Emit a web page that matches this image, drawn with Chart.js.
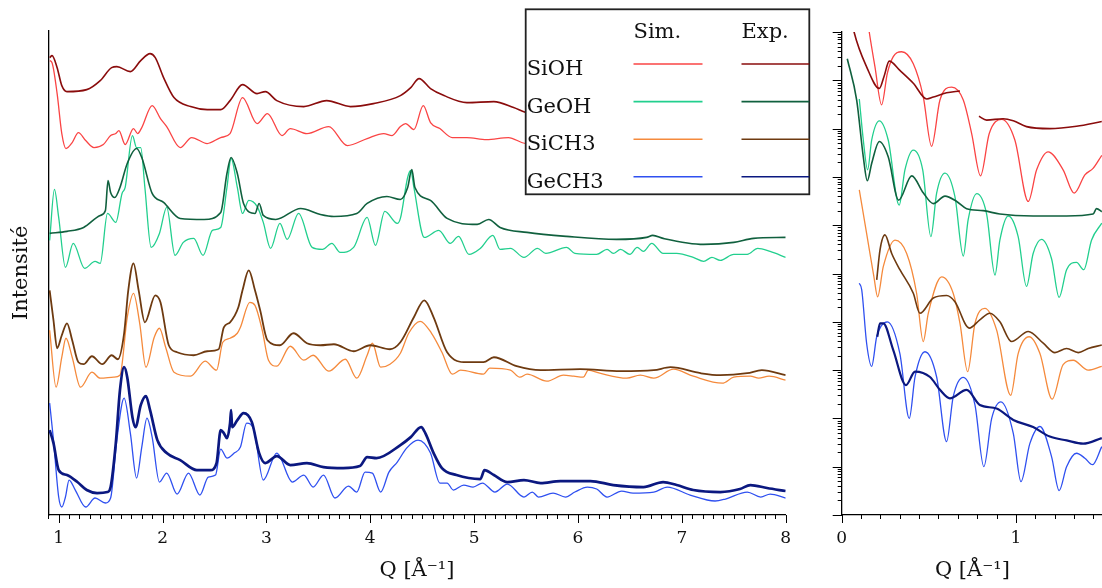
<!DOCTYPE html>
<html>
<head>
<meta charset="utf-8">
<script src="https://cdn.jsdelivr.net/npm/chart.js@4/dist/chart.umd.min.js"></script>
<style>
  html, body { margin: 0; padding: 0; background: #fff; overflow: hidden; }
  #wrap { position: relative; width: 1102px; height: 588px; }
  #left { position: absolute; left: 0; top: 0; }
  #right { position: absolute; left: 815px; top: 0; }
</style>
</head>
<body>
<div id="wrap">
  <canvas id="left" width="815" height="588"></canvas>
  <canvas id="right" width="288" height="588"></canvas>
</div>
<script>
// samples + legend
const samples = ["SiOH", "GeOH", "SiCH3", "GeCH3"];
const colHeads = ["Sim.", "Exp."];
const simColors = ["#fa4444", "#22cf8e", "#f58a3c", "#2f50f0"];
const expColors = ["#8a0c0c", "#10603e", "#6e3a10", "#0b1880"];

// tick labels
const leftTicks = [1, 2, 3, 4, 5, 6, 7, 8];
const rightTicks = [0, 1];

// ---- wide Q range, [Q, intensity (a.u., offset)] ----
const siohExp = [[0.913,458],[0.936,460],[0.985,448],[1.03,430],[1.08,424],[1.27,426],[1.40,435],[1.51,448],[1.56,449],[1.69,444],[1.79,455],[1.88,462],[1.93,458],[2.01,438],[2.11,418],[2.27,409],[2.43,406],[2.56,406],[2.65,415],[2.77,431],[2.91,422],[2.99,424],[3.10,415],[3.36,409],[3.58,415],[3.81,409],[4.03,412],[4.29,420],[4.39,428],[4.47,437],[4.58,427],[4.71,420],[4.93,413],[5.19,414],[5.38,408],[5.50,403],[5.60,401]];
const siohSim = [[0.914,455],[0.936,453],[0.985,422],[1.03,382],[1.07,367],[1.13,373],[1.19,383],[1.26,375],[1.34,368],[1.43,371],[1.50,380],[1.55,382],[1.58,385],[1.64,371],[1.72,387],[1.76,382],[1.80,388],[1.90,410],[1.98,397],[2.04,389],[2.17,368],[2.28,378],[2.43,372],[2.56,378],[2.65,382],[2.77,418],[2.91,392],[3.01,402],[3.15,380],[3.23,387],[3.39,382],[3.60,389],[3.78,370],[3.97,377],[4.13,382],[4.21,380],[4.29,389],[4.34,392],[4.42,386],[4.51,410],[4.58,393],[4.67,387],[4.79,378],[4.93,378],[5.12,376],[5.33,378],[5.50,372],[5.60,372]];
const geohExp = [[0.913,282],[1.08,284],[1.24,288],[1.40,300],[1.45,305],[1.475,335],[1.50,323],[1.54,318],[1.59,328],[1.66,352],[1.75,367],[1.80,358],[1.90,322],[2.01,313],[2.17,297],[2.40,296],[2.56,303],[2.62,342],[2.66,358],[2.72,342],[2.78,312],[2.89,302],[2.93,312],[2.97,300],[3.09,296],[3.33,307],[3.52,301],[3.65,299],[3.87,302],[3.97,312],[4.16,319],[4.29,316],[4.36,328],[4.40,346],[4.43,328],[4.58,315],[4.74,297],[5.03,291],[5.14,296],[5.25,288],[5.51,283],[5.89,279],[6.37,276],[6.66,278],[6.72,280],[6.82,277],[7.21,271],[7.50,273],[7.69,277],[8.0,278]];
const geohSim = [[0.913,275],[0.959,326],[1.0,298],[1.065,248],[1.14,272],[1.25,247],[1.35,254],[1.40,252],[1.47,302],[1.55,293],[1.61,322],[1.64,328],[1.71,380],[1.75,368],[1.79,368],[1.83,328],[1.89,268],[1.97,282],[2.04,308],[2.12,260],[2.20,273],[2.30,277],[2.39,260],[2.48,285],[2.56,288],[2.62,328],[2.66,357],[2.72,328],[2.77,302],[2.83,315],[2.91,309],[2.97,293],[3.04,267],[3.13,292],[3.20,276],[3.31,302],[3.44,268],[3.54,266],[3.63,272],[3.71,263],[3.84,268],[3.97,298],[4.05,270],[4.14,304],[4.26,292],[4.29,297],[4.36,338],[4.39,345],[4.42,328],[4.52,278],[4.66,285],[4.77,272],[4.85,279],[4.95,261],[5.06,267],[5.18,280],[5.25,266],[5.35,267],[5.48,258],[5.61,267],[5.69,262],[5.89,268],[5.97,262],[6.18,261],[6.28,266],[6.34,262],[6.41,266],[6.50,261],[6.57,268],[6.63,264],[6.71,272],[6.82,262],[6.95,262],[7.11,258],[7.21,254],[7.29,258],[7.37,255],[7.50,261],[7.63,261],[7.73,267],[7.85,264],[8.0,258]];
const sich3Exp = [[0.913,225],[0.95,195],[0.985,167],[1.03,180],[1.08,192],[1.13,175],[1.19,153],[1.24,151],[1.32,159],[1.42,151],[1.51,160],[1.57,156],[1.63,182],[1.67,225],[1.72,252],[1.77,225],[1.83,193],[1.93,220],[1.98,213],[2.06,170],[2.14,163],[2.30,160],[2.43,164],[2.54,166],[2.59,188],[2.65,193],[2.73,208],[2.77,225],[2.83,245],[2.89,225],[2.94,205],[3.01,175],[3.13,170],[3.26,182],[3.39,172],[3.52,170],[3.65,171],[3.84,164],[4.00,170],[4.19,166],[4.29,173],[4.42,198],[4.52,215],[4.61,198],[4.74,163],[4.93,153],[5.09,153],[5.19,158],[5.41,149],[5.64,145],[6.02,146],[6.41,144],[6.73,145],[6.89,148],[7.18,142],[7.37,140],[7.63,142],[7.77,145],[8.0,140]];
const sich3Sim = [[0.913,185],[0.975,128],[1.03,158],[1.07,177],[1.13,158],[1.21,128],[1.32,143],[1.40,137],[1.53,138],[1.59,140],[1.66,198],[1.72,222],[1.78,192],[1.84,148],[1.92,178],[1.97,187],[2.03,168],[2.11,143],[2.27,139],[2.41,154],[2.52,145],[2.58,173],[2.65,177],[2.72,182],[2.75,188],[2.84,213],[2.89,210],[2.96,185],[3.02,155],[3.10,149],[3.23,169],[3.36,155],[3.45,160],[3.60,144],[3.76,156],[3.87,137],[3.97,160],[4.02,172],[4.10,148],[4.19,151],[4.29,162],[4.37,182],[4.48,194],[4.59,182],[4.69,163],[4.79,141],[4.87,145],[5.09,141],[5.15,147],[5.35,145],[5.44,138],[5.51,141],[5.70,134],[5.86,140],[5.96,139],[6.05,138],[6.10,145],[6.21,142],[6.47,137],[6.60,140],[6.73,137],[6.92,146],[7.11,139],[7.39,132],[7.50,138],[7.66,139],[7.74,137],[7.84,139],[8.0,135]];
const gech3Exp = [[0.913,85],[0.95,72],[1.0,45],[1.08,40],[1.18,33],[1.27,25],[1.37,22],[1.47,23],[1.50,28],[1.55,72],[1.59,125],[1.63,148],[1.66,138],[1.71,98],[1.74,88],[1.79,110],[1.84,119],[1.88,105],[1.95,75],[2.04,62],[2.17,55],[2.33,45],[2.46,45],[2.52,52],[2.56,85],[2.59,82],[2.62,77],[2.65,92],[2.66,105],[2.67,88],[2.72,95],[2.78,102],[2.86,93],[2.93,62],[2.99,52],[3.10,59],[3.23,50],[3.39,52],[3.55,48],[3.74,47],[3.90,49],[3.97,58],[4.06,57],[4.29,70],[4.39,78],[4.49,88],[4.53,82],[4.61,62],[4.69,47],[4.83,40],[5.06,36],[5.10,45],[5.19,40],[5.32,33],[5.48,35],[5.64,32],[5.83,34],[6.12,34],[6.34,30],[6.63,28],[6.82,33],[6.95,30],[7.11,25],[7.37,23],[7.56,26],[7.66,30],[7.82,27],[8.0,24]];
const gech3Sim = [[0.913,112],[0.95,75],[1.0,18],[1.03,8],[1.065,18],[1.10,35],[1.16,25],[1.26,8],[1.35,17],[1.45,12],[1.50,17],[1.56,75],[1.63,117],[1.69,82],[1.75,37],[1.80,68],[1.85,97],[1.90,78],[1.97,33],[2.04,42],[2.14,21],[2.25,42],[2.36,20],[2.44,38],[2.51,40],[2.56,66],[2.62,57],[2.69,62],[2.75,68],[2.81,92],[2.88,85],[2.97,35],[3.10,62],[3.25,33],[3.36,40],[3.45,28],[3.55,40],[3.66,17],[3.79,29],[3.87,23],[3.95,43],[4.02,42],[4.10,23],[4.18,43],[4.26,53],[4.35,67],[4.46,75],[4.58,62],[4.67,32],[4.74,32],[4.80,25],[4.90,30],[4.99,28],[5.08,32],[5.20,23],[5.32,31],[5.48,18],[5.56,23],[5.62,18],[5.76,22],[5.88,18],[5.97,23],[6.09,28],[6.18,26],[6.28,18],[6.42,24],[6.53,22],[6.73,23],[6.86,28],[7.08,20],[7.32,14],[7.42,16],[7.63,23],[7.76,18],[7.85,21],[8.0,17]];

// ---- small Q range (log intensity) ----
const siohExpS = [[0.06,1.6e10],[0.071,1e10],[0.143,1.9e9],[0.216,6.8e8],[0.243,1.2e9],[0.273,2.5e9],[0.334,1.6e9],[0.411,8.7e8],[0.488,4.1e8],[0.526,4.5e8],[0.602,5.5e8],[0.679,6.0e8],[0.73,null],[0.788,1.8e8],[0.832,1.5e8],[0.927,1.6e8],[0.985,1.45e8],[1.061,1.1e8],[1.195,1.0e8],[1.348,1.12e8],[1.493,1.4e8]];
const siohSimS = [[0.15,1.6e10],[0.158,1e10],[0.191,1.9e9],[0.229,3.1e8],[0.262,1.4e9],[0.296,3.1e9],[0.344,3.9e9],[0.411,2.2e9],[0.468,4.6e8],[0.516,4.3e7],[0.564,3.9e8],[0.631,7.2e8],[0.698,3.9e8],[0.746,7.9e7],[0.797,1.05e7],[0.847,7.9e7],[0.918,1.55e8],[0.994,5.8e7],[1.071,3.1e6],[1.119,1.4e7],[1.185,3.3e7],[1.271,1.4e7],[1.335,4.6e6],[1.396,1.1e7],[1.443,1.5e7],[1.493,2.8e7]];
const geohExpS = [[0.032,2.8e9],[0.086,3.9e8],[0.124,2.6e7],[0.147,8.3e6],[0.172,1.9e7],[0.216,5.4e7],[0.267,2.6e7],[0.327,3.3e6],[0.402,1.05e7],[0.468,4.7e6],[0.526,2.8e6],[0.593,4.0e6],[0.660,3.1e6],[0.717,2.2e6],[0.812,2.0e6],[0.908,1.7e6],[1.099,1.55e6],[1.291,1.55e6],[1.443,1.7e6],[1.463,2.2e6],[1.493,1.9e6]];
const geohSimS = [[0.101,4.1e8],[0.124,5.8e7],[0.149,1.4e7],[0.172,5.8e7],[0.216,1.45e8],[0.267,5.8e7],[0.330,2.6e6],[0.363,1.4e7],[0.411,3.6e7],[0.465,1.4e7],[0.512,5.8e5],[0.545,4.6e6],[0.593,1.2e7],[0.650,3.9e6],[0.698,2.3e5],[0.726,1.3e6],[0.775,4.5e6],[0.832,1.7e6],[0.880,9.3e4],[0.908,4.9e5],[0.956,1.55e6],[1.013,5.8e5],[1.061,5.4e4],[1.099,2.6e5],[1.147,5.1e5],[1.205,2.0e5],[1.248,3.2e4],[1.291,1.2e5],[1.348,1.7e5],[1.390,1.2e5],[1.434,4.9e5],[1.493,1.1e6]];
const sich3ExpS = [[0.201,7.4e4],[0.220,3.1e5],[0.248,6.3e5],[0.287,2.6e5],[0.334,1.2e5],[0.411,3.9e4],[0.449,1.5e4],[0.526,3.1e4],[0.602,3.5e4],[0.650,2.6e4],[0.732,7.4e3],[0.793,1.1e4],[0.851,1.5e4],[0.908,1.0e4],[0.975,3.9e3],[1.071,6.3e3],[1.157,3.6e3],[1.224,2.3e3],[1.291,2.8e3],[1.358,2.3e3],[1.415,2.8e3],[1.493,3.3e3]];
const sich3SimS = [[0.101,5.4e6],[0.143,6.8e5],[0.185,8.5e4],[0.206,3.3e4],[0.239,1.4e5],[0.306,4.9e5],[0.373,2.6e5],[0.430,3.9e4],[0.468,3.9e3],[0.497,1.5e4],[0.574,8.5e4],[0.640,3.9e4],[0.679,9.3e3],[0.723,9.3e2],[0.765,9.3e3],[0.822,1.9e4],[0.889,6.8e3],[0.970,3.0e2],[1.013,2.2e3],[1.076,4.9e3],[1.138,2.2e3],[1.208,2.5e2],[1.271,1.3e3],[1.329,1.6e3],[1.415,1.0e3],[1.493,1.2e3]];
const gech3ExpS = [[0.204,4.9e3],[0.220,9.3e3],[0.239,9.3e3],[0.296,2.6e3],[0.369,4.9e2],[0.421,9.3e2],[0.507,7.2e2],[0.564,3.9e2],[0.621,2.6e2],[0.717,3.9e2],[0.793,1.9e2],[0.889,1.6e2],[0.985,93],[1.099,66],[1.195,42],[1.291,35],[1.386,30],[1.493,39]];
const gech3SimS = [[0.101,6.3e4],[0.115,4.6e4],[0.143,3.6e3],[0.172,1.2e3],[0.201,4.9e3],[0.262,1.0e4],[0.334,2.2e3],[0.388,1.0e2],[0.421,7.2e2],[0.478,2.4e3],[0.545,7.2e2],[0.602,33],[0.640,2.8e2],[0.698,7.1e2],[0.765,1.9e2],[0.816,10],[0.861,1.0e2],[0.914,2.2e2],[0.985,49],[1.029,4.9],[1.080,30],[1.138,68],[1.205,16],[1.248,3.2],[1.291,10],[1.348,19],[1.396,15],[1.440,11],[1.493,26]];

const serif = "'DejaVu Serif', serif";
Chart.defaults.font.family = serif;
Chart.defaults.color = "#111";

function line(label, arr, color, width) {
  return {
    label,
    data: arr.map(p => ({ x: p[0], y: p[1] })),
    borderColor: color,
    borderWidth: width,
    pointRadius: 0,
    fill: false,
    cubicInterpolationMode: "monotone",
    spanGaps: false
  };
}

// ticks drawn from the scales (major / minor)
const tickMarks = {
  id: "tickMarks",
  afterDraw(chart, args, o) {
    const ctx = chart.ctx;
    const xs = chart.scales.x, ys = chart.scales.y;
    ctx.save();
    ctx.strokeStyle = "#000";
    ctx.lineWidth = 1;
    ctx.beginPath();
    const xt = (v, len) => {
      const p = Math.round(xs.getPixelForValue(v)) + 0.5;
      ctx.moveTo(p, xs.top); ctx.lineTo(p, xs.top + len);
    };
    const yt = (v, len) => {
      const p = Math.round(ys.getPixelForValue(v)) + 0.5;
      ctx.moveTo(ys.right, p); ctx.lineTo(ys.right - len, p);
    };
    o.xMinor.forEach(v => xt(v, 4));
    o.xMajor.forEach(v => xt(v, 8));
    (o.yMinor || []).forEach(v => yt(v, 4));
    (o.yMajor || []).forEach(v => yt(v, 9));
    ctx.stroke();
    ctx.restore();
  }
};

// table-like legend box
const legendBox = {
  id: "legendBox",
  afterDraw(chart, args, o) {
    const ctx = chart.ctx;
    ctx.save();
    ctx.fillStyle = "#fff";
    ctx.fillRect(o.x, o.y, o.w, o.h);
    ctx.strokeStyle = "#222";
    ctx.lineWidth = 1.8;
    ctx.strokeRect(o.x, o.y, o.w, o.h);
    ctx.font = "21px " + serif;
    ctx.fillStyle = "#111";
    ctx.textBaseline = "alphabetic";
    ctx.fillText(colHeads[0], o.simX, o.headY);
    ctx.fillText(colHeads[1], o.expX, o.headY);
    samples.forEach((name, i) => {
      const base = o.rowY + i * o.rowStep;
      ctx.fillStyle = "#111";
      ctx.fillText(name, o.x + 1, base);
      ctx.lineWidth = 1.6;
      ctx.strokeStyle = simColors[i];
      ctx.beginPath();
      ctx.moveTo(o.simX, base - 11); ctx.lineTo(o.simX + o.len, base - 11);
      ctx.stroke();
      ctx.strokeStyle = expColors[i];
      ctx.beginPath();
      ctx.moveTo(o.expX, base - 11); ctx.lineTo(o.x + o.w, base - 11);
      ctx.stroke();
    });
    ctx.restore();
  }
};

const leftMinor = [];
for (let i = 9; i <= 80; i++) leftMinor.push(i / 10);
const rightMinor = [];
for (let i = 0; i <= 13; i++) rightMinor.push(i / 9);
const logMajor = [], logMinor = [];
for (let e = 0; e <= 10; e++) {
  logMajor.push(Math.pow(10, e));
  if (e < 10) for (let k = 2; k <= 9; k++) logMinor.push(k * Math.pow(10, e));
}

const axisBorder = { display: true, color: "#000", width: 1.3 };
const qTitle = { display: true, text: "Q [Å⁻¹]", font: { size: 21 }, color: "#111", padding: { top: 0, bottom: 5 } };

new Chart(document.getElementById("left"), {
  type: "line",
  data: {
    datasets: [
      line("SiOH Exp.", siohExp, expColors[0], 1.6),
      line("GeOH Exp.", geohExp, expColors[1], 1.6),
      line("SiCH3 Exp.", sich3Exp, expColors[2], 1.8),
      line("GeCH3 Exp.", gech3Exp, expColors[3], 2.7),
      line("SiOH Sim.", siohSim, simColors[0], 1.3),
      line("GeOH Sim.", geohSim, simColors[1], 1.3),
      line("SiCH3 Sim.", sich3Sim, simColors[2], 1.3),
      line("GeCH3 Sim.", gech3Sim, simColors[3], 1.3)
    ]
  },
  options: {
    responsive: false,
    animation: false,
    layout: { padding: { top: 30.7, right: 29.3, left: 0, bottom: 0 } },
    plugins: {
      legend: { display: false },
      tooltip: { enabled: false },
      tickMarks: { xMinor: leftMinor, xMajor: leftTicks },
      legendBox: { x: 525.7, y: 9.3, w: 283.6, h: 185, simX: 633.5, expX: 741.5, len: 69, headY: 37.5, rowY: 75, rowStep: 37.6 }
    },
    scales: {
      x: {
        type: "linear", min: 0.9, max: 8,
        afterBuildTicks: s => { s.ticks = leftTicks.map(v => ({ value: v })); },
        afterFit: s => { s.height = 73; },
        grid: { display: false, drawTicks: false },
        border: axisBorder,
        ticks: { padding: 13, font: { size: 17 }, color: "#111", maxRotation: 0, autoSkip: false },
        title: qTitle
      },
      y: {
        min: 0, max: 485,
        afterFit: s => { s.width = 48.3; },
        grid: { display: false, drawTicks: false },
        border: axisBorder,
        ticks: { display: false },
        title: { display: true, text: "Intensité", font: { size: 21 }, color: "#111", padding: { top: 9, bottom: 0 } }
      }
    }
  },
  plugins: [tickMarks, legendBox]
});

new Chart(document.getElementById("right"), {
  type: "line",
  data: {
    datasets: [
      line("SiOH Exp.", siohExpS, expColors[0], 1.6),
      line("GeOH Exp.", geohExpS, expColors[1], 1.6),
      line("SiCH3 Exp.", sich3ExpS, expColors[2], 1.6),
      line("GeCH3 Exp.", gech3ExpS, expColors[3], 2.2),
      line("SiOH Sim.", siohSimS, simColors[0], 1.3),
      line("GeOH Sim.", geohSimS, simColors[1], 1.3),
      line("SiCH3 Sim.", sich3SimS, simColors[2], 1.3),
      line("GeCH3 Sim.", gech3SimS, simColors[3], 1.3)
    ]
  },
  options: {
    responsive: false,
    animation: false,
    layout: { padding: { top: 32, right: 0, left: 0, bottom: 0 } },
    plugins: {
      legend: { display: false },
      tooltip: { enabled: false },
      tickMarks: { xMinor: rightMinor, xMajor: rightTicks, yMinor: logMinor, yMajor: logMajor }
    },
    scales: {
      x: {
        type: "linear", min: 0, max: 1.5,
        afterBuildTicks: s => { s.ticks = rightTicks.map(v => ({ value: v })); },
        afterFit: s => { s.height = 73; },
        grid: { display: false, drawTicks: false },
        border: axisBorder,
        ticks: { padding: 13, font: { size: 17 }, color: "#111", maxRotation: 0, autoSkip: false },
        title: qTitle
      },
      y: {
        type: "logarithmic", min: 1, max: 1e10,
        afterFit: s => { s.width = 26.7; },
        grid: { display: false, drawTicks: false },
        border: axisBorder,
        ticks: { display: false }
      }
    }
  },
  plugins: [tickMarks]
});
</script>
</body>
</html>
